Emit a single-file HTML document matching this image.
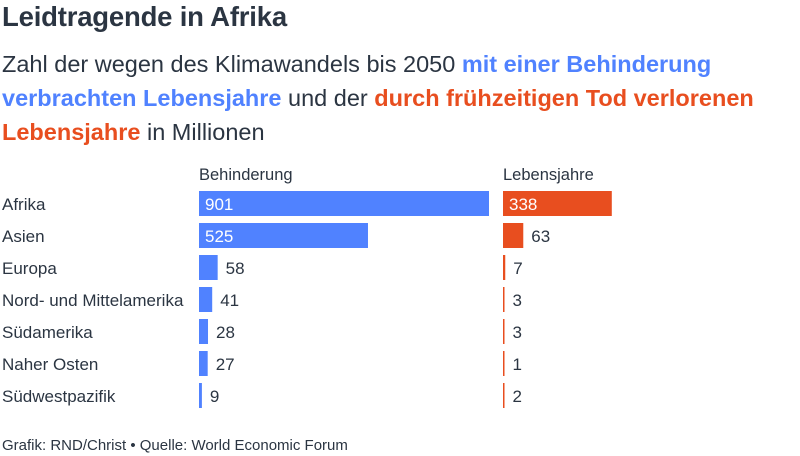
<!DOCTYPE html>
<html><head><meta charset="utf-8">
<style>
body{margin:0;width:800px;height:456px;background:#fff;font-family:"Liberation Sans",sans-serif;color:#2b3542;overflow:hidden;position:relative}
#title{position:absolute;left:2px;top:1px;font-size:27.5px;font-weight:bold;margin:0;letter-spacing:-0.2px}
#sub{position:absolute;left:2px;top:47px;font-size:23.5px;line-height:34px;margin:0;white-space:nowrap}
.b{color:#5082ff;font-weight:bold}.o{color:#e84e1f;font-weight:bold}
#foot{position:absolute;left:2px;top:437px;font-size:15px}
svg{position:absolute;left:0;top:0}
</style></head><body>
<h1 id="title">Leidtragende in Afrika</h1>
<p id="sub">Zahl der wegen des Klimawandels bis 2050 <span class="b">mit einer Behinderung</span><br><span class="b">verbrachten Lebensjahre</span> und der <span class="o">durch frühzeitigen Tod verlorenen</span><br><span class="o">Lebensjahre</span> in Millionen</p>
<svg id="chart" width="800" height="456"></svg>
<div id="foot">Grafik: RND/Christ • Quelle: World Economic Forum</div>
<script>
const categories=["Afrika","Asien","Europa","Nord- und Mittelamerika","Südamerika","Naher Osten","Südwestpazifik"];
const disability=[901,525,58,41,28,27,9];
const lifeYears=[338,63,7,3,3,1,2];
const seriesNames=["Behinderung","Lebensjahre"];
const NS="http://www.w3.org/2000/svg";
const svg=document.getElementById('chart');
const scale=v=>v*290/901;
const rowY=i=>204+i*32;
function mk(t,a,txt){const e=document.createElementNS(NS,t);for(const k in a)e.setAttribute(k,a[k]);if(txt!=null)e.textContent=txt;svg.appendChild(e);return e;}
const cols=[{x0:199,data:disability,color:"#5082ff"},{x0:503,data:lifeYears,color:"#e84e1f"}];
cols.forEach((c,ci)=>{
  const h=mk('text',{x:c.x0,y:180,'font-size':16.5,fill:'#2b3542'},seriesNames[ci]);
  
  
});
categories.forEach((cat,i)=>{
  const y=rowY(i);
  const l=mk('text',{x:2,y:y+6,'font-size':17,fill:'#2b3542'},cat);
  
  
  cols.forEach((c,ci)=>{
    const v=c.data[i];const w=Math.max(scale(v),1.5);
    const r=mk('rect',{x:c.x0,y:y-13,width:w,height:25,fill:c.color});
    
    
    const inside=w>60;
    const t=mk('text',{x:inside?c.x0+6:c.x0+w+8,y:y+6,'font-size':17,fill:inside?'#fff':'#2b3542'},String(v));
    
    
  });
});
</script>
</body></html>
